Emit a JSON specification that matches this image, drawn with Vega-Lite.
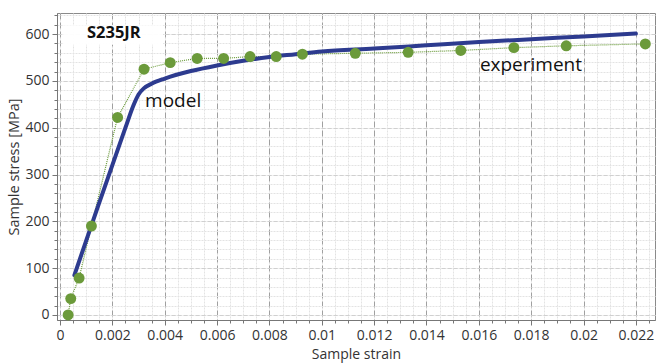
{
  "$schema": "https://vega.github.io/schema/vega-lite/v6.json",
  "width": 598,
  "height": 307,
  "autosize": {"type": "none"},
  "padding": {"left": 57, "top": 13, "right": 1, "bottom": 43},
  "background": "white",
  "config": {
    "view": {"stroke": "#8a8a8a", "strokeWidth": 1},
    "font": "Open Sans",
    "axis": {"labelFont": "Open Sans", "titleFont": "Open Sans", "labelColor": "#333", "titleColor": "#333", "titleFontWeight": "normal"}
  },
  "datasets": {
    "exp": [
      {"strain": 0.00031, "stress": 0},
      {"strain": 0.00041, "stress": 35},
      {"strain": 0.00073, "stress": 79},
      {"strain": 0.0012, "stress": 190},
      {"strain": 0.0022, "stress": 422},
      {"strain": 0.00321, "stress": 525},
      {"strain": 0.00421, "stress": 539},
      {"strain": 0.00524, "stress": 548},
      {"strain": 0.00625, "stress": 548},
      {"strain": 0.00726, "stress": 552},
      {"strain": 0.00826, "stress": 552},
      {"strain": 0.00926, "stress": 557},
      {"strain": 0.01128, "stress": 559},
      {"strain": 0.0133, "stress": 561},
      {"strain": 0.01531, "stress": 565},
      {"strain": 0.01734, "stress": 571},
      {"strain": 0.01934, "stress": 575},
      {"strain": 0.02236, "stress": 579}
    ],
    "model": [
      {"strain": 0.00055, "stress": 85},
      {"strain": 0.001, "stress": 159},
      {"strain": 0.0015, "stress": 240},
      {"strain": 0.002, "stress": 320},
      {"strain": 0.0025, "stress": 400},
      {"strain": 0.0028, "stress": 447},
      {"strain": 0.003, "stress": 471},
      {"strain": 0.0032, "stress": 484},
      {"strain": 0.0035, "stress": 494},
      {"strain": 0.004, "stress": 505},
      {"strain": 0.005, "stress": 521},
      {"strain": 0.006, "stress": 533},
      {"strain": 0.007, "stress": 543},
      {"strain": 0.008, "stress": 551},
      {"strain": 0.009, "stress": 557},
      {"strain": 0.01, "stress": 563},
      {"strain": 0.012, "stress": 569},
      {"strain": 0.014, "stress": 576},
      {"strain": 0.016, "stress": 583},
      {"strain": 0.018, "stress": 589},
      {"strain": 0.02, "stress": 595},
      {"strain": 0.022, "stress": 601}
    ]
  },
  "resolve": {"axis": {"x": "independent", "y": "independent"}},
  "layer": [
    {
      "data": {"name": "exp"},
      "mark": {"type": "point", "opacity": 0},
      "encoding": {
        "x": {"field": "strain", "type": "quantitative",
          "scale": {"domain": [-0.000115, 0.02273], "nice": false, "zero": false},
          "axis": {"orient": "bottom", "title": null, "labels": false, "domain": false, "ticks": true, "tickSize": 3, "tickColor": "#777",
            "grid": true, "gridColor": "#e3e3e3", "gridDash": [2, 1], "gridWidth": 1,
            "values": [0,0.0005,0.001,0.0015,0.002,0.0025,0.003,0.0035,0.004,0.0045,0.005,0.0055,0.006,0.0065,0.007,0.0075,0.008,0.0085,0.009,0.0095,0.01,0.0105,0.011,0.0115,0.012,0.0125,0.013,0.0135,0.014,0.0145,0.015,0.0155,0.016,0.0165,0.017,0.0175,0.018,0.0185,0.019,0.0195,0.02,0.0205,0.021,0.0215,0.022,0.0225]}},
        "y": {"field": "stress", "type": "quantitative",
          "scale": {"domain": [-10.7, 645], "nice": false, "zero": false},
          "axis": {"orient": "left", "title": null, "labels": false, "domain": false, "ticks": true, "tickSize": 3, "tickColor": "#777",
            "grid": true, "gridColor": "#e3e3e3", "gridDash": [2, 1], "gridWidth": 1,
            "values": [0,20,40,60,80,100,120,140,160,180,200,220,240,260,280,300,320,340,360,380,400,420,440,460,480,500,520,540,560,580,600,620,640]}}
      }
    },
    {
      "data": {"name": "exp"},
      "mark": {"type": "line", "color": "#6a9a3a", "strokeWidth": 1.2, "strokeDash": [1, 1]},
      "encoding": {
        "x": {"field": "strain", "type": "quantitative",
          "axis": {"orient": "bottom", "title": "Sample strain", "titleFontSize": 14, "titlePadding": 5, "labelFontSize": 14, "labelPadding": 3,
            "format": "~g", "domainColor": "#777", "tickColor": "#777", "tickSize": 5,
            "grid": true, "gridColor": "#a0a0a0", "gridDash": [6, 3], "gridWidth": 1,
            "values": [0,0.002,0.004,0.006,0.008,0.01,0.012,0.014,0.016,0.018,0.02,0.022]}},
        "y": {"field": "stress", "type": "quantitative",
          "axis": {"orient": "left", "title": "Sample stress [MPa]", "titleFontSize": 14.5, "titlePadding": 3, "labelFontSize": 14, "labelPadding": 3,
            "domainColor": "#777", "tickColor": "#777", "tickSize": 5,
            "grid": true, "gridColor": "#d0d0d0", "gridDash": [4, 2], "gridWidth": 1,
            "values": [0,100,200,300,400,500,600]}}
      }
    },
    {
      "data": {"name": "model"},
      "mark": {"type": "line", "color": "#2d3b8f", "strokeWidth": 4, "strokeCap": "round", "interpolate": "monotone"},
      "encoding": {
        "x": {"field": "strain", "type": "quantitative", "axis": null},
        "y": {"field": "stress", "type": "quantitative", "axis": null}
      }
    },
    {
      "data": {"name": "exp"},
      "mark": {"type": "circle", "color": "#6b9a3a", "opacity": 1, "size": 120},
      "encoding": {
        "x": {"field": "strain", "type": "quantitative", "axis": null},
        "y": {"field": "stress", "type": "quantitative", "axis": null}
      }
    },
    {
      "data": {"values": [{"x1": 0.00012, "x2": 0.00394, "y1": 619, "y2": 577}]},
      "mark": {"type": "rect", "color": "white", "opacity": 0.95},
      "encoding": {
        "x": {"field": "x1", "type": "quantitative", "axis": null},
        "x2": {"field": "x2"},
        "y": {"field": "y1", "type": "quantitative", "axis": null},
        "y2": {"field": "y2"}
      }
    },
    {
      "data": {"values": [
        {"x": 0.00103, "y": 602, "label": "S235JR"}
      ]},
      "mark": {"type": "text", "align": "left", "baseline": "middle", "font": "Open Sans", "fontSize": 16.5, "fontWeight": "bold", "color": "#111"},
      "encoding": {
        "x": {"field": "x", "type": "quantitative", "axis": null},
        "y": {"field": "y", "type": "quantitative", "axis": null},
        "text": {"field": "label"}
      }
    },
    {
      "data": {"values": [
        {"x": 0.00325, "y": 457, "label": "model"},
        {"x": 0.01604, "y": 534, "label": "experiment"}
      ]},
      "mark": {"type": "text", "align": "left", "baseline": "middle", "font": "Open Sans", "fontSize": 19, "color": "#111"},
      "encoding": {
        "x": {"field": "x", "type": "quantitative", "axis": null},
        "y": {"field": "y", "type": "quantitative", "axis": null},
        "text": {"field": "label"}
      }
    }
  ]
}
